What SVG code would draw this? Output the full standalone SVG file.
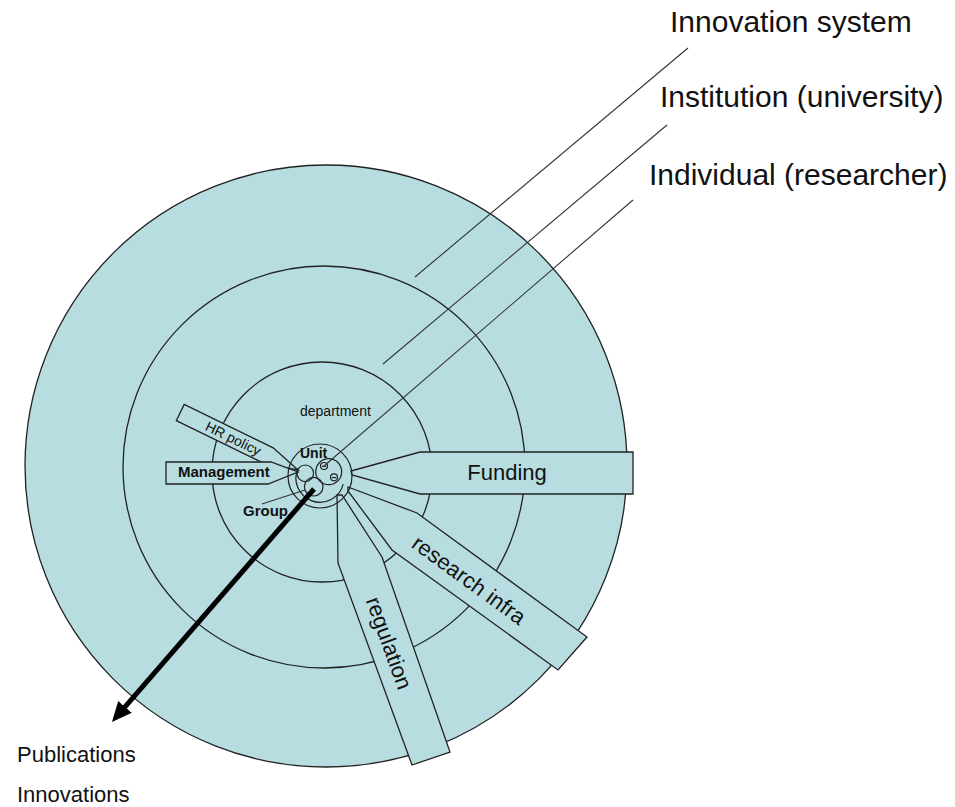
<svg xmlns="http://www.w3.org/2000/svg" width="955" height="807" viewBox="0 0 955 807">
<style>
  .ring{fill:#b7dde1;stroke:#222;stroke-width:1.3}
  .spoke{fill:#b7dde1;stroke:#222;stroke-width:1.3;stroke-linejoin:miter}
  .thin{fill:none;stroke:#222;stroke-width:1.2}
  .lead{fill:none;stroke:#333;stroke-width:1.1}
  text{font-family:"Liberation Sans",Arial,sans-serif;fill:#111}
  .big{font-size:30px}
  .lbl{font-size:22px}
  .sm{font-size:14px}
  .b{font-weight:bold}
</style>
<defs>
  <marker id="ah" markerUnits="userSpaceOnUse" viewBox="0 0 20 18" markerWidth="20" markerHeight="18" refX="10" refY="9" orient="auto">
    <path d="M0,0 L20,9 L0,18 z" fill="#000"/>
  </marker>
</defs>
<rect width="955" height="807" fill="#fff"/>

<g id="innovation-system-ring"><circle class="ring" cx="326" cy="466" r="301"/></g>
<g id="institution-ring"><circle class="ring" cx="324" cy="467" r="201"/></g>
<g id="department-ring"><circle class="ring" cx="322" cy="472" r="110"/></g>

<g id="funding">
  <polygon class="spoke" points="351,471 420,452 633,452 633,494 420,494 352,475"/>
  <text class="lbl" x="507" y="480" text-anchor="middle">Funding</text>
</g>
<g id="research-infra">
  <polygon class="spoke" points="348,487 417,513 587,637 558,670 392,550 348,491"/>
  <text class="lbl" transform="translate(469,580) rotate(36)" x="0" y="7.5" text-anchor="middle">research infra</text>
</g>
<g id="regulation">
  <polygon class="spoke" points="337,495 338,563 412,765 450,752 382,557 342,495"/>
  <text class="lbl" transform="translate(389,643) rotate(70)" x="0" y="7.5" text-anchor="middle">regulation</text>
</g>
<g id="hr-policy" transform="translate(298,470) rotate(26)">
  <polygon class="spoke" points="0,0 -32,-9 -131,-9 -131,9 -32,9"/>
  <text class="sm" x="-72" y="5" text-anchor="middle">HR policy</text>
</g>
<g id="management">
  <polygon class="spoke" points="166,462 271,462 298,472 268,484 166,484"/>
  <text class="b" style="font-size:15px" x="178" y="477">Management</text>
</g>

<g id="unit">
  <circle class="thin" cx="320" cy="476" r="32"/>
  <path class="thin" d="M298.3,467.9 A24,24 0 1 0 343.2,484.2"/>
  <circle class="thin" cx="305.3" cy="473.3" r="8.3"/>
  <circle class="thin" cx="328.7" cy="471.7" r="13"/>
  <circle class="thin" cx="313.7" cy="486.7" r="9.3"/>
  <circle class="thin" cx="324" cy="466" r="3.5"/>
  <line class="thin" x1="321.8" y1="466.3" x2="326.2" y2="466.3"/>
  <circle class="thin" cx="334" cy="477.3" r="3.5"/>
  <line class="thin" x1="331.8" y1="477.6" x2="336.2" y2="477.6"/>
  <text class="sm b" x="300" y="458">Unit</text>
</g>
<g id="group-label">
  <text class="b" style="font-size:15px" x="243" y="516">Group</text>
</g>
<g id="department-label">
  <text class="sm" x="300" y="416">department</text>
</g>

<g id="connectors">
  <line class="lead" x1="688" y1="48" x2="415" y2="277"/>
  <line class="lead" x1="667" y1="125" x2="383" y2="364"/>
  <line class="lead" x1="633" y1="200" x2="324" y2="466"/>
  <line class="lead" x1="262" y1="504" x2="305" y2="490"/>
  <line x1="314" y1="489" x2="118.5" y2="714.4" stroke="#000" stroke-width="5" marker-end="url(#ah)"/>
</g>

<g id="level-labels">
  <text class="big" x="670" y="32">Innovation system</text>
  <text class="big" x="660" y="107">Institution (university)</text>
  <text class="big" x="649" y="185">Individual (researcher)</text>
</g>
<g id="outputs">
  <text class="lbl" x="17" y="762">Publications</text>
  <text class="lbl" x="17" y="802">Innovations</text>
</g>
</svg>
